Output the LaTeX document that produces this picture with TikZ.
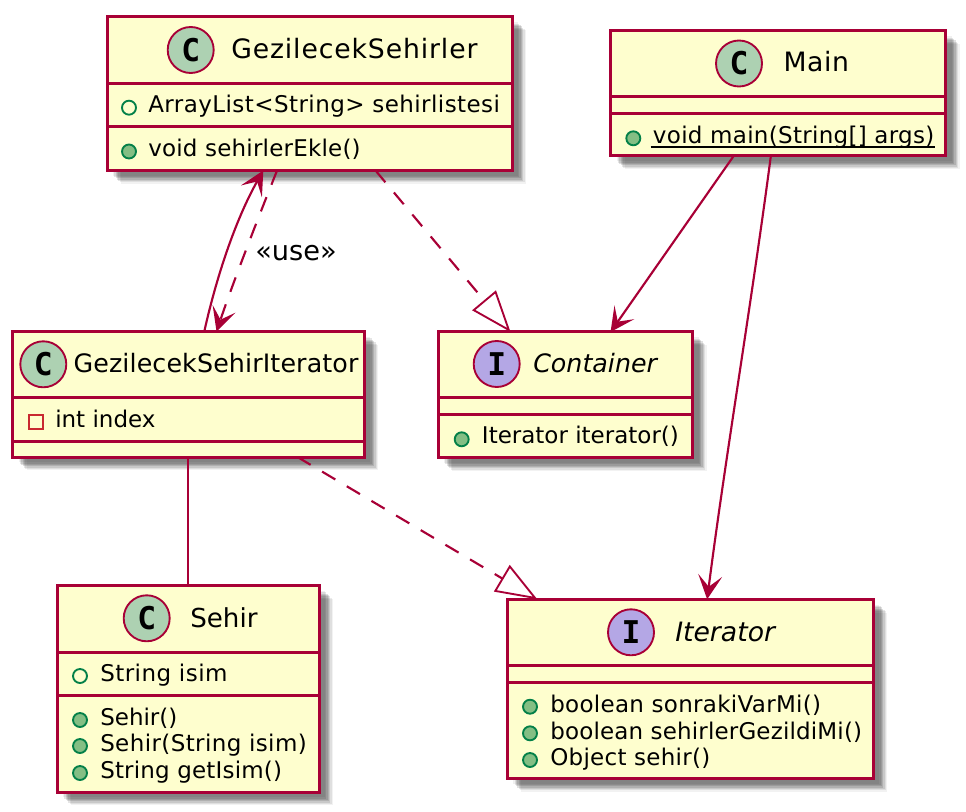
\documentclass[tikz,border=0pt]{standalone}
\usepackage{fontspec}
\setmainfont{DejaVu Sans}
\setmonofont{DejaVu Sans Mono}
\usetikzlibrary{arrows.meta,calc,fit,shadows}

\definecolor{umlred}{HTML}{A80036}
\definecolor{umlfill}{HTML}{FEFECE}
\definecolor{classcirc}{HTML}{ADD1B2}
\definecolor{ifacecirc}{HTML}{B4A7E5}
\definecolor{pubgreen}{HTML}{038048}
\definecolor{pubfill}{HTML}{84BE84}
\definecolor{privred}{HTML}{C82930}

\tikzset{
	softshadow/.style={
		general shadow={shadow xshift=10.5pt, shadow yshift=-10pt, fill=black, opacity=.05},
		general shadow={shadow xshift=9.5pt, shadow yshift=-9pt, fill=black, opacity=.08},
		general shadow={shadow xshift=8.5pt, shadow yshift=-8pt, fill=black, opacity=.1},
		general shadow={shadow xshift=7.5pt, shadow yshift=-7pt, fill=black, opacity=.12},
		general shadow={shadow xshift=6.5pt, shadow yshift=-6pt, fill=black, opacity=.12},
		general shadow={shadow xshift=5.5pt, shadow yshift=-5pt, fill=black, opacity=.1},
		general shadow={shadow xshift=4.5pt, shadow yshift=-4pt, fill=black, opacity=.06},
	},
	classbox/.style={rectangle, draw=umlred, fill=umlfill, line width=2.25pt, inner sep=0pt, outer sep=0pt, softshadow},
	sepline/.style={draw=umlred, line width=2.25pt},
	classicon/.style={circle, draw=umlred, line width=1.4pt, minimum size=34.5pt, inner sep=0pt, fill=classcirc, font=\ttfamily\bfseries\fontsize{23.5}{25}\selectfont},
	ifaceicon/.style={classicon, fill=ifacecirc},
	title/.style 2 args={anchor=base west, inner sep=0pt, font=\fontsize{#1}{26}\selectfont\addfontfeature{LetterSpace=#2}},
	ititle/.style 2 args={anchor=base west, inner sep=0pt, font=\fontsize{#1}{26}\selectfont\itshape\addfontfeature{LetterSpace=#2}},
	member/.style={anchor=base west, inner sep=0pt, font=\fontsize{17.25}{20}\selectfont\addfontfeature{LetterSpace=#1}},
	member/.default=0,
	pubfield/.style={circle, draw=pubgreen, line width=1.4pt, minimum size=10.5pt, inner sep=0pt},
	pubmethod/.style={pubfield, fill=pubfill},
	privfield/.style={rectangle, draw=privred, line width=1.4pt, minimum size=10.5pt, inner sep=0pt},
	conn/.style={draw=umlred, line width=1.6pt},
	dep/.style={conn, dash pattern=on 11.5pt off 10pt},
	headtip/.style={-{Stealth[length=18pt, width=18pt, inset=8.5pt]}},
	realtip/.style={-{Triangle[open, length=31pt, width=23pt, line width=1.4pt]}},
}

\begin{document}
\begin{tikzpicture}[x=0.75pt, y=-0.75pt]
	\useasboundingbox (0,0) rectangle (966,812);

	% Boxes
	\node[classbox, fit={(107,17) (512,170.5)}] (sehirler) {};
	\node[classbox, fit={(610.7,31) (945.7,156)}] (main) {};
	\node[classbox, fit={(12.5,331.7) (364.3,457)}] (sehiriter) {};
	\node[classbox, fit={(438,332) (692.5,457.5)}] (container) {};
	\node[classbox, fit={(57,585.5) (319,792)}] (sehir) {};
	\node[classbox, fit={(507.3,599.3) (873.3,778.3)}] (iterator) {};

	% Separators
	\draw[sepline] (sehirler.west |- 0,83.5) -- (sehirler.east |- 0,83.5);
	\draw[sepline] (sehirler.west |- 0,127) -- (sehirler.east |- 0,127);
	\draw[sepline] (main.west |- 0,96.7) -- (main.east |- 0,96.7);
	\draw[sepline] (main.west |- 0,113.3) -- (main.east |- 0,113.3);
	\draw[sepline] (sehiriter.west |- 0,397.3) -- (sehiriter.east |- 0,397.3);
	\draw[sepline] (sehiriter.west |- 0,441.5) -- (sehiriter.east |- 0,441.5);
	\draw[sepline] (container.west |- 0,397.5) -- (container.east |- 0,397.5);
	\draw[sepline] (container.west |- 0,414.5) -- (container.east |- 0,414.5);
	\draw[sepline] (sehir.west |- 0,652.5) -- (sehir.east |- 0,652.5);
	\draw[sepline] (sehir.west |- 0,695.7) -- (sehir.east |- 0,695.7);
	\draw[sepline] (iterator.west |- 0,665.7) -- (iterator.east |- 0,665.7);
	\draw[sepline] (iterator.west |- 0,682.5) -- (iterator.east |- 0,682.5);

	% GezilecekSehirler
	\node[classicon] (sehirlerC) at (190.7,50) {C};
	\node[title={20}{3.3}] (sehirlerName) at (231,58.5) {GezilecekSehirler};
	\node[pubfield] (sehirlerF) at (129,107.7) {};
	\node[member=1.9] (sehirlerListe) at (148,112.7) {ArrayList<String> sehirlistesi};
	\node[pubmethod] (sehirlerM) at (129,151.5) {};
	\node[member=.9] (sehirlerEkle) at (148,156.7) {void sehirlerEkle()};

	% Main
	\node[classicon] (mainC) at (739,63.5) {C};
	\node[title={20}{2.3}] (mainName) at (783.3,72) {Main};
	\node[pubmethod] (mainM) at (633.3,138.3) {};
	\node[member=1.3] (mainMain) at (652.7,143.5) {void main(String[] args)};
	\draw[line width=1.3pt] ($(mainMain.base west)+(-2,3.5)$) -- ($(mainMain.base east)+(0,3.5)$);

	% GezilecekSehirIterator
	\node[classicon] (sehiriterC) at (43.3,364.3) {C};
	\node[title={19}{.5}] (sehiriterName) at (73.3,373) {GezilecekSehirIterator};
	\node[privfield] (sehiriterF) at (35.7,422.3) {};
	\node[member] (sehiriterIndex) at (55,427.5) {int index};

	% Container
	\node[ifaceicon] (containerI) at (496.7,364) {I};
	\node[ititle={19}{0}] (containerName) at (533,373) {Container};
	\node[pubmethod] (containerM) at (461.7,439.3) {};
	\node[member] (containerIter) at (481.7,443.5) {Iterator iterator()};

	% Sehir
	\node[classicon] (sehirC) at (146.7,618.3) {C};
	\node[title={19.6}{0}] (sehirName) at (190,627) {Sehir};
	\node[pubfield] (sehirF) at (80,676) {};
	\node[member=2] (sehirIsim) at (100,681.5) {String isim};
	\node[pubmethod] (sehirM1) at (80,720) {};
	\node[member] (sehirCtor) at (100,725) {Sehir()};
	\node[pubmethod] (sehirM2) at (80,746) {};
	\node[member=1.7] (sehirCtor2) at (100,751.5) {Sehir(String isim)};
	\node[pubmethod] (sehirM3) at (80,773) {};
	\node[member=.8] (sehirGet) at (100,778) {String getIsim()};

	% Iterator
	\node[ifaceicon] (iteratorI) at (631,632.3) {I};
	\node[ititle={20}{0}] (iteratorName) at (675,641) {Iterator};
	\node[pubmethod] (iteratorM1) at (530,706.7) {};
	\node[member=1.3] (iteratorNext) at (550,712.3) {boolean sonrakiVarMi()};
	\node[pubmethod] (iteratorM2) at (530,733.3) {};
	\node[member=.7] (iteratorDone) at (550,739) {boolean sehirlerGezildiMi()};
	\node[pubmethod] (iteratorM3) at (530,760) {};
	\node[member=1.2] (iteratorObj) at (550,765.7) {Object sehir()};

	% Connectors
	\draw[conn, headtip] ($(sehiriter.north west)!.545!(sehiriter.north east)$)
		.. controls (218,270) and (238,215) .. ($(sehirler.south west)!.386!(sehirler.south east)$);
	\draw[dep, headtip] ($(sehirler.south west)!.42!(sehirler.south east)$)
		.. controls (262,208) and (232,285) .. ($(sehiriter.north west)!.58!(sehiriter.north east)$);
	\node[anchor=base west, inner sep=0pt, font=\fontsize{20.4}{24}\selectfont] (useLabel) at (255,261) {«use»};
	\draw[dep, realtip] ($(sehirler.south west)!.663!(sehirler.south east)$)
		-- ($(container.north west)!.285!(container.north east)$);
	\draw[conn, headtip] ($(main.south west)!.367!(main.south east)$)
		-- ($(container.north west)!.678!(container.north east)$);
	\draw[conn, headtip] ($(main.south west)!.478!(main.south east)$)
		.. controls (752,300) and (725,460) .. ($(iterator.north west)!.546!(iterator.north east)$);
	\draw[conn] (sehiriter.south -| sehir.north) -- (sehir.north);
	\draw[dep, realtip] ($(sehiriter.south west)!.81!(sehiriter.south east)$)
		-- ($(iterator.north west)!.082!(iterator.north east)$);
\end{tikzpicture}
\end{document}
